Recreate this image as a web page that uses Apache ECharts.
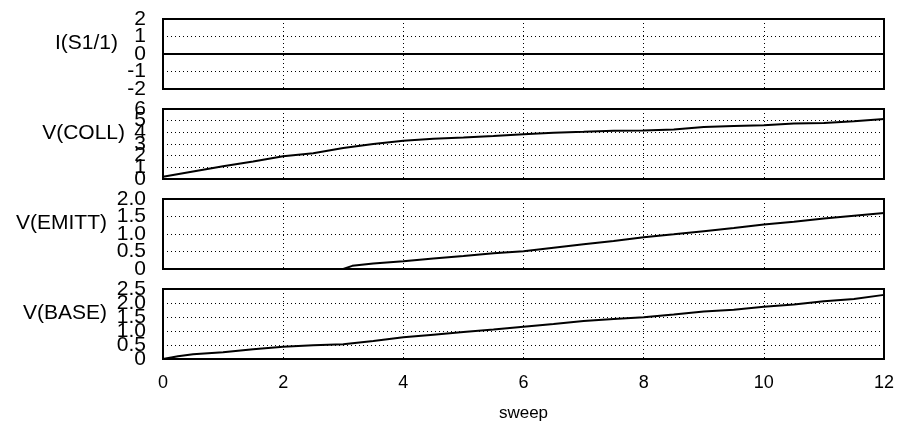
<!DOCTYPE html>
<html>
<head>
<meta charset="utf-8">
<script src="https://cdn.jsdelivr.net/npm/echarts@6/dist/echarts.min.js"></script>
<style>html,body{margin:0;padding:0;background:#fff}#c{width:898px;height:431px}</style>
</head>
<body>
<div id="c"></div>
<script>
// ---- data ----
var panelNames = ['I(S1/1)', 'V(COLL)', 'V(EMITT)', 'V(BASE)'];
var xTicks = [0, 2, 4, 6, 8, 10, 12];
var xLabel = 'sweep';
var sweepX = [0, 0.5, 1, 1.5, 2, 2.5, 3, 3.5, 4, 4.5, 5, 5.5, 6, 6.5, 7, 7.5, 8, 8.5, 9, 9.5, 10, 10.5, 11, 11.5, 12];
var iS1 = [0, 0, 0, 0, 0, 0, 0, 0, 0, 0, 0, 0, 0, 0, 0, 0, 0, 0, 0, 0, 0, 0, 0, 0, 0];
var vColl = [0.2, 0.65, 1.1, 1.5, 1.95, 2.2, 2.65, 3.0, 3.28, 3.45, 3.55, 3.68, 3.83, 3.97, 4.05, 4.14, 4.15, 4.25, 4.45, 4.55, 4.6, 4.75, 4.8, 4.95, 5.15];
var emittX = [0, 1, 2, 3, 3.15, 3.5, 4, 4.5, 5, 5.5, 6, 6.5, 7, 7.5, 8, 8.5, 9, 9.5, 10, 10.5, 11, 11.5, 12];
var vEmitt = [0, 0, 0, 0, 0.09, 0.16, 0.22, 0.3, 0.37, 0.45, 0.51, 0.61, 0.71, 0.8, 0.91, 0.99, 1.08, 1.17, 1.27, 1.35, 1.44, 1.52, 1.6];
var baseX = [0, 0.25, 0.5, 1, 1.5, 2, 2.5, 3, 3.5, 4, 4.5, 5, 5.5, 6, 6.5, 7, 7.5, 8, 8.5, 9, 9.5, 10, 10.5, 11, 11.5, 12];
var vBase = [0, 0.1, 0.17, 0.24, 0.35, 0.44, 0.49, 0.53, 0.64, 0.78, 0.87, 0.96, 1.05, 1.15, 1.25, 1.36, 1.43, 1.49, 1.59, 1.7, 1.76, 1.87, 1.95, 2.06, 2.14, 2.29];
var yMin = [-2, 0, 0, 0];
var yMax = [2, 6, 2, 2.5];
var yStep = [1, 1, 0.5, 0.5];

function pairs(xs, ys) { return xs.map(function (x, i) { return [x, ys[i]]; }); }
var seriesData = [pairs(sweepX, iS1), pairs(sweepX, vColl), pairs(emittX, vEmitt), pairs(baseX, vBase)];

// ---- layout ----
var FONT = 'Liberation Sans, Arial, sans-serif';
var tops = [19, 109, 199, 289];
var H = 70, LEFT = 163, RIGHT = 14;
var nameRight = [118, 125, 107, 107];

function fmt(v, d) { return v === 0 ? '0' : (d ? v.toFixed(1) : String(v)); }

var grids = [], xAxes = [], yAxes = [], series = [], graphics = [];
for (var i = 0; i < 4; i++) {
  grids.push({ left: LEFT, right: RIGHT, top: tops[i], height: H, show: true, borderColor: '#000', borderWidth: 2, backgroundColor: 'transparent' });
  var last = i === 3;
  xAxes.push({
    type: 'value', gridIndex: i, min: xTicks[0], max: xTicks[xTicks.length - 1], interval: xTicks[1] - xTicks[0],
    axisLine: { show: false }, axisTick: { show: false },
    axisLabel: { show: last, color: '#000', fontFamily: FONT, fontSize: 18, margin: 15, showMinLabel: true, showMaxLabel: true },
    splitLine: { show: true, lineStyle: { color: '#000', width: 1, type: [1, 3] } },
    name: last ? xLabel : '', nameLocation: 'middle', nameGap: 46,
    nameTextStyle: { color: '#000', fontFamily: FONT, fontSize: 17 }
  });
  var dec = yStep[i] < 1;
  // inner tick labels
  yAxes.push({
    type: 'value', gridIndex: i, position: 'left', offset: 0, min: yMin[i], max: yMax[i], interval: yStep[i],
    axisLine: { show: false }, axisTick: { show: false },
    axisLabel: {
      color: '#000', fontFamily: FONT, fontSize: 21, margin: 17,
      showMinLabel: false, showMaxLabel: false, hideOverlap: false,
      formatter: (function (d) { return function (v) { return fmt(v, d); }; })(dec)
    },
    splitLine: { show: true, lineStyle: { color: '#000', width: 1, type: [1, 3] } }
  });
  // end tick labels (min / max)
  yAxes.push({
    type: 'value', gridIndex: i, position: 'left', offset: 0, min: yMin[i], max: yMax[i], interval: yStep[i],
    axisLine: { show: false }, axisTick: { show: false }, splitLine: { show: false },
    axisLabel: {
      color: '#000', fontFamily: FONT, fontSize: 21, margin: 17,
      showMinLabel: true, showMaxLabel: true, hideOverlap: false,
      formatter: (function (d, lo, hi) { return function (v) { return (v === lo || v === hi) ? fmt(v, d) : ''; }; })(dec, yMin[i], yMax[i])
    }
  });
  series.push({
    type: 'line', xAxisIndex: i, yAxisIndex: 2 * i, data: seriesData[i], showSymbol: false, symbol: 'none',
    lineStyle: { color: '#000', width: 2 }, animation: false, z: 5, clip: false
  });
  graphics.push({
    type: 'text', x: nameRight[i], y: tops[i] + H / 2 - 11,
    style: { text: panelNames[i], fill: '#000', font: '21px ' + FONT, textAlign: 'right', textVerticalAlign: 'middle' }
  });
}

var chart = echarts.init(document.getElementById('c'), null, { renderer: 'canvas' });
chart.setOption({
  animation: false,
  backgroundColor: '#fff',
  grid: grids, xAxis: xAxes, yAxis: yAxes, series: series, graphic: graphics
});
</script>
</body>
</html>
